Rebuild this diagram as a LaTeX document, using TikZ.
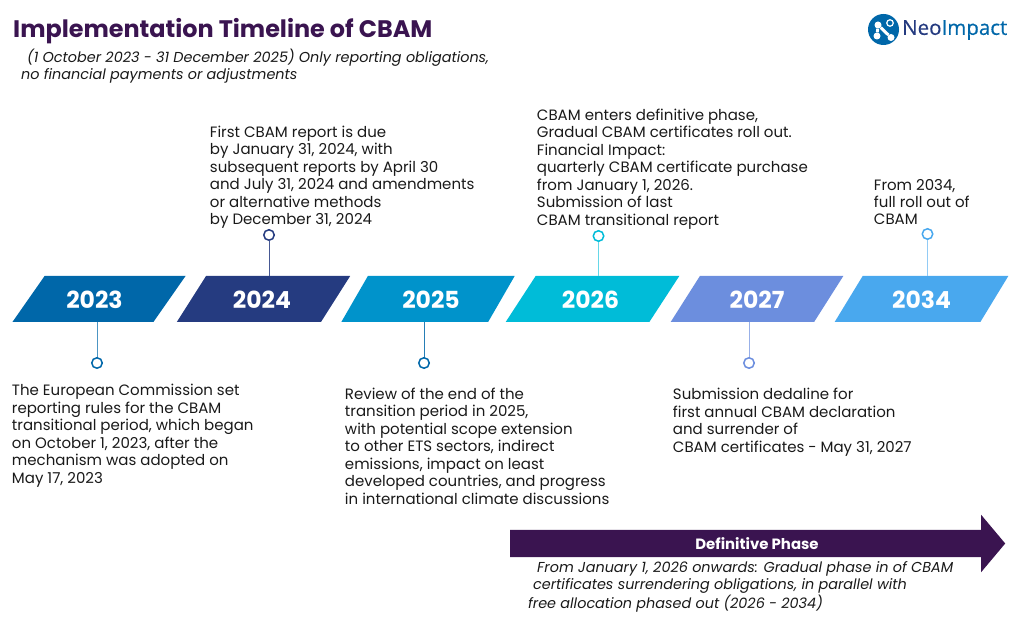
\documentclass[tikz,border=0pt]{standalone}
\usepackage{fontspec}
\setmainfont{Poppins}
\newfontfamily\logofont[FakeBold=0.4]{Open Sans}
\usetikzlibrary{shapes.geometric}
\usetikzlibrary{shapes.arrows}
\usetikzlibrary{positioning}
\definecolor{titlepurple}{HTML}{3A1450}
\definecolor{col23}{HTML}{0067A9}
\definecolor{col24}{HTML}{253B80}
\definecolor{col25}{HTML}{0093CB}
\definecolor{col26}{HTML}{00BCD8}
\definecolor{col27}{HTML}{6C8EDE}
\definecolor{col34}{HTML}{49A8EE}

\begin{document}
\begin{tikzpicture}[x=1pt,y=1pt,node distance=164.5pt,
	year node/.style={trapezium,trapezium left angle=55,trapezium right angle=125,trapezium stretches=true,
		minimum width=174pt,minimum height=46pt,inner sep=0pt,text=white,text height=20pt,text depth=0pt,
		font=\fontsize{23.5}{24}\selectfont\bfseries},
	dot node/.style={circle,draw,fill=white,line width=1.5pt,minimum size=10.5pt,inner sep=0pt},
	body node/.style={align=left,inner sep=0pt,text=black!90,font=\fontsize{15}{17.45}\selectfont},
	note node/.style={align=left,inner sep=0pt,text=black!90,font=\fontsize{14.4}{17}\selectfont\itshape},
	logo blob/.style={circle,fill=white,minimum size=7pt,inner sep=0pt}]
	
	\useasboundingbox (0,0) rectangle (1024,637);
	
	\node[anchor=west,inner sep=0pt,text=titlepurple,font=\fontsize{23.9}{28}\selectfont\bfseries] (title) at (13,606) {Implementation Timeline of CBAM};
	\node[note node,anchor=north west] (note) at (21,588.5) {\hspace*{6pt}(1 October 2023 - 31 December 2025) Only reporting obligations,\\no financial payments or adjustments};
	
	% logo
	\node[circle,fill=col23,minimum size=31pt,inner sep=0pt] (logo) at (883.5,607.5) {};
	\node[anchor=west,inner sep=0pt,font=\logofont\fontsize{20.5}{22}\selectfont] (logotext) at (902,607) {\textcolor{col24}{Neo}\textcolor{col23}{Impact}};
	\node[logo blob] (lga) at (878,612) {};
	\node[logo blob] (lgb) at (877,601) {};
	\node[logo blob] (lgc) at (891,599.5) {};
	\node[circle,draw=white,line width=1.2pt,minimum size=6.5pt,inner sep=0pt] (lgd) at (890,614) {};
	\draw[white,line width=3pt] (lgb) -- (lga) -- (lgc);
	
	% year bars
	\node[year node,fill=col23] (bar23) at (99,338) {\hspace*{-9pt}2023};
	\node[year node,fill=col24] (bar24) [right of=bar23] {\hspace*{-3pt}2024};
	\node[year node,fill=col25] (bar25) [right of=bar24] {\hspace*{6pt}2025};
	\node[year node,fill=col26] (bar26) [right of=bar25] {\hspace*{-4pt}2026};
	\node[year node,fill=col27] (bar27) [right of=bar26] {2027};
	\node[year node,fill=col34] (bar34) [right of=bar27] {2034};
	
	% dots
	\begin{scope}[node distance=64pt]
	\node[dot node,draw=col23] (dot23) [below of=bar23,xshift=-2pt] {};
	\node[dot node,draw=col24] (dot24) [above of=bar24,xshift=5.5pt] {};
	\node[dot node,draw=col23] (dot25) [below of=bar25,xshift=-4pt] {};
	\node[dot node,draw=col26] (dot26) [above of=bar26,xshift=6pt,yshift=-1pt] {};
	\node[dot node,draw=col27] (dot27) [below of=bar27,xshift=-8pt] {};
	\node[dot node,draw=col34] (dot34) [above of=bar34,xshift=6pt,yshift=1pt] {};
	\end{scope}
	
	\draw[col23!70!white] (dot23) -- (dot23 |- bar23.south);
	\draw[col24!85!white] (dot24) -- (dot24 |- bar24.north);
	\draw[col23!85!white] (dot25) -- (dot25 |- bar25.south);
	\draw[col26!60!white] (dot26) -- (dot26 |- bar26.north);
	\draw[col27!70!white] (dot27) -- (dot27 |- bar27.south);
	\draw[col34!60!white] (dot34) -- (dot34 |- bar34.north);
	
	% texts
	\node[body node,below=17pt of dot23.south west,anchor=north west,xshift=-81pt] (text23) {The European Commission set\\reporting rules for the CBAM\\transitional period, which began\\on October 1, 2023, after the\\mechanism was adopted on\\May 17, 2023};
	\node[body node,above=2pt of dot24.north west,anchor=south west,xshift=-55pt] (text24) {First CBAM report is due\\by January 31, 2024, with\\subsequent reports by April 30\\and July 31, 2024 and amendments\\or alternative methods\\by December 31, 2024};
	\node[body node,below=20.5pt of dot25.south west,anchor=north west,xshift=-75pt] (text25) {Review of the end of the\\transition period in 2025,\\with potential scope extension\\to other ETS sectors, indirect\\emissions, impact on least\\developed countries, and progress\\in international climate discussions};
	\node[body node,above=2.5pt of dot26.north west,anchor=south west,xshift=-57.5pt] (text26) {CBAM enters definitive phase,\\Gradual CBAM certificates roll out.\\Financial Impact:\\quarterly CBAM certificate purchase\\from January 1, 2026.\\Submission of last\\CBAM transitional report};
	\node[body node,below=21pt of dot27.south west,anchor=north west,xshift=-72pt] (text27) {Submission dedaline for\\first annual CBAM declaration\\and surrender of\\CBAM certificates - May 31, 2027};
	\node[body node,above=4.5pt of dot34.north west,anchor=south west,xshift=-49.5pt] (text34) {From 2034,\\full roll out of\\CBAM};
	
	% definitive phase
	\node[single arrow,fill=titlepurple,single arrow head extend=15pt,single arrow tip angle=100,
		minimum height=495pt,inner sep=0pt,text height=27pt,text depth=0pt,anchor=tail] (phase) at (510,93.5) {};
	\node[inner sep=0pt,text=white,font=\fontsize{14.9}{15}\selectfont\bfseries] (phaselabel) at (757,93) {Definitive Phase};
	\node[note node,anchor=north west] (phasenote) at (528,75.5) {\hspace*{9pt}From January 1, 2026 onwards: Gradual phase in of CBAM\\\hspace*{5pt}certificates surrendering obligations, in parallel with\\free allocation phased out (2026 - 2034)};
	
\end{tikzpicture}
\end{document}
